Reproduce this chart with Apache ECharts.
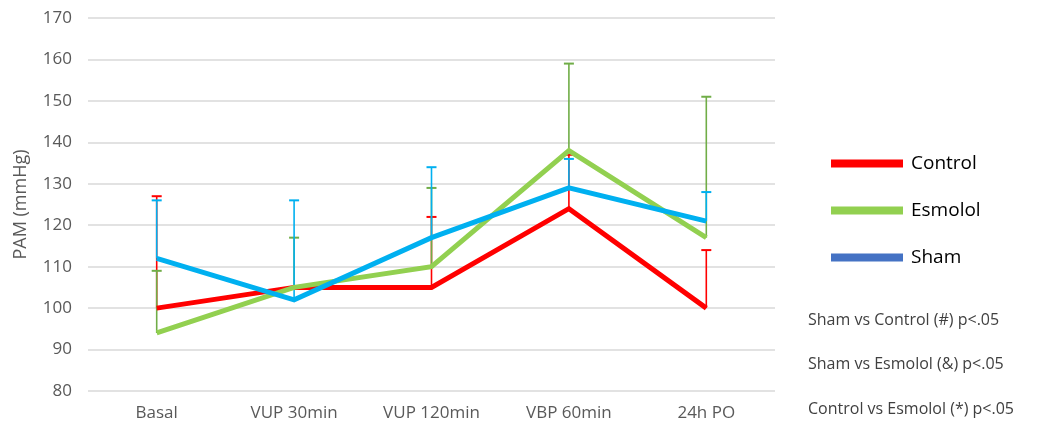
<!DOCTYPE html>
<html><head><meta charset="utf-8">
<script src="https://cdn.jsdelivr.net/npm/echarts@6/dist/echarts.min.js"></script>
<style>html,body{margin:0;padding:0;background:#fff}#c{width:1040px;height:428px}</style>
</head><body><div id="c"></div>
<script>
const categories = ['Basal', 'VUP 30min', 'VUP 120min', 'VBP 60min', '24h PO'];
const controlMean = [100, 105, 105, 124, 100];
const controlUpper = [127, null, 122, 137, 114];
const esmololMean = [94, 105, 110, 138, 117];
const esmololUpper = [109, 117, 129, 159, 151];
const shamMean = [112, 102, 117, 129, 121];
const shamUpper = [126, 126, 134, 136, 128];
const notes = ['Sham vs Control (#) p<.05', 'Sham vs Esmolol (&) p<.05', 'Control vs Esmolol (*) p<.05'];

const FONT = '"Open Sans", "Noto Sans", sans-serif';
function errData(mean, upper) {
  return mean.map((m, i) => [i, m, upper[i]]).filter(d => d[2] != null);
}
function errSeries(name, mean, upper, color) {
  return {
    type: 'custom', name: name, z: 1, silent: true,
    data: errData(mean, upper),
    renderItem: function (params, api) {
      const p0 = api.coord([api.value(0), api.value(1)]);
      const p1 = api.coord([api.value(0), api.value(2)]);
      const hw = 5;
      return { type: 'group', children: [
        { type: 'line', shape: { x1: p0[0], y1: p0[1], x2: p1[0], y2: p1[1] }, style: { stroke: color, lineWidth: 1.6 } },
        { type: 'line', shape: { x1: p1[0] - hw, y1: p1[1], x2: p1[0] + hw, y2: p1[1] }, style: { stroke: color, lineWidth: 2 } }
      ]};
    }
  };
}
function lineSeries(name, data, color) {
  return { type: 'line', name: name, data: data, z: 3, symbol: 'none',
    lineStyle: { color: color, width: 5, join: 'miter' }, itemStyle: { color: color } };
}
const chart = echarts.init(document.getElementById('c'));
chart.setOption({
  animation: false,
  textStyle: { fontFamily: FONT },
  grid: { left: 88, right: 265, top: 18, bottom: 37 },
  xAxis: { type: 'category', data: categories, boundaryGap: true,
    axisLine: { show: false }, axisTick: { show: false },
    axisLabel: { color: '#595959', fontSize: 17, margin: 14, fontFamily: FONT } },
  yAxis: { type: 'value', min: 80, max: 170, interval: 10,
    name: 'PAM (mmHg)', nameLocation: 'middle', nameGap: 58, nameRotate: 90,
    nameTextStyle: { color: '#595959', fontSize: 18, fontFamily: FONT },
    axisLabel: { color: '#595959', fontSize: 17, margin: 16, fontFamily: FONT },
    splitLine: { lineStyle: { color: '#d9d9d9', width: 1.5 } } },
  legend: { orient: 'vertical', left: 826, top: 149, icon: 'rect', itemWidth: 72, itemHeight: 8,
    itemGap: 28, textStyle: { color: '#000', fontSize: 19, fontFamily: FONT, padding: [0, 0, 0, 3] },
    data: [
      { name: 'Control', itemStyle: { color: '#FF0000' } },
      { name: 'Esmolol', itemStyle: { color: '#92D050' } },
      { name: 'Sham', itemStyle: { color: '#4472C4' } }
    ] },
  graphic: notes.map((t, i) => ({ type: 'text', left: 808, top: 312 + i * 44.5,
    style: { text: t, fill: '#404040', font: '16px ' + FONT } })),
  series: [
    errSeries('errControl', controlMean, controlUpper, '#FF0000'),
    errSeries('errEsmolol', esmololMean, esmololUpper, '#70AD47'),
    errSeries('errSham', shamMean, shamUpper, '#00B0F0'),
    lineSeries('Control', controlMean, '#FF0000'),
    lineSeries('Esmolol', esmololMean, '#92D050'),
    lineSeries('Sham', shamMean, '#00B0F0')
  ]
});
</script></body></html>
